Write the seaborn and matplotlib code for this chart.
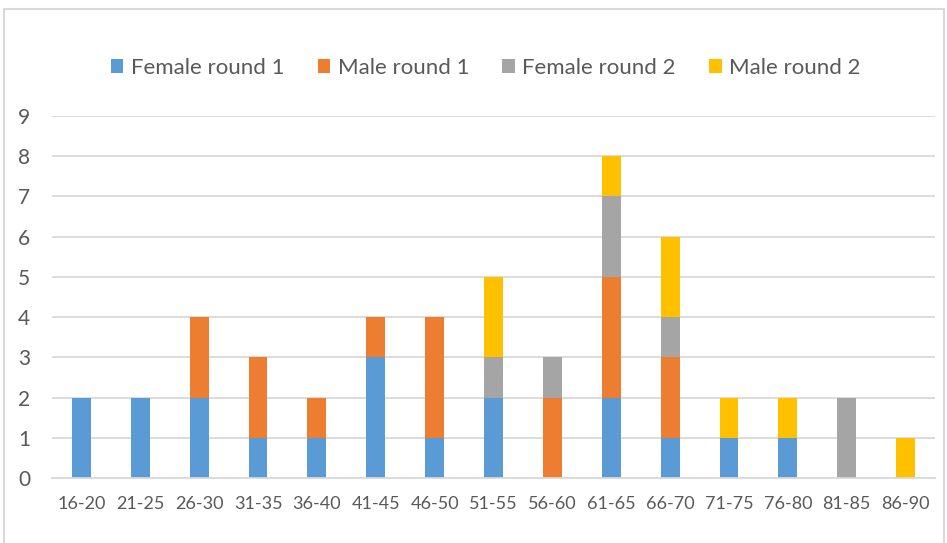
import matplotlib
matplotlib.use("Agg")
import matplotlib.pyplot as plt
import seaborn as sns
import numpy as np
from matplotlib.patches import Rectangle

# ── Data ──────────────────────────────────────────────────────────────
age_groups = ["16-20", "21-25", "26-30", "31-35", "36-40", "41-45", "46-50", "51-55",
              "56-60", "61-65", "66-70", "71-75", "76-80", "81-85", "86-90"]
female_round1 = [2, 2, 2, 1, 1, 3, 1, 2, 0, 2, 1, 1, 1, 0, 0]
male_round1 = [0, 0, 2, 2, 1, 1, 3, 0, 2, 3, 2, 0, 0, 0, 0]
female_round2 = [0, 0, 0, 0, 0, 0, 0, 1, 1, 2, 1, 0, 0, 2, 0]
male_round2 = [0, 0, 0, 0, 0, 0, 0, 2, 0, 1, 2, 1, 1, 0, 1]

series_names = ["Female round 1", "Male round 1", "Female round 2", "Male round 2"]
series_colors = ["#5B9BD5", "#ED7D31", "#A5A5A5", "#FFC000"]

# ── Style ─────────────────────────────────────────────────────────────
sns.set_style("white")
plt.rcParams["font.family"] = ["Lato", "DejaVu Sans"]
TEXT = "#595959"
GRID = "#D9D9D9"

fig = plt.figure(figsize=(9.47, 5.43), dpi=100)
ax = fig.add_axes([52 / 947, 1 - 478 / 543, (935 - 52) / 947, (478 - 116) / 543])

bottom = np.zeros(len(age_groups))
for name, vals, col in zip(series_names,
                           [female_round1, male_round1, female_round2, male_round2],
                           series_colors):
    sns.barplot(x=age_groups, y=vals, bottom=bottom, color=col, width=0.32,
                saturation=1, label=name, ax=ax, linewidth=0)
    bottom = bottom + np.array(vals)

ax.set_ylim(0, 9)
ax.set_yticks(range(0, 10))
ax.set_xlim(-0.5, len(age_groups) - 0.5)
ax.yaxis.grid(True, color=GRID, linewidth=1.3)
ax.set_axisbelow(True)
for s in ["top", "right", "left"]:
    ax.spines[s].set_visible(False)
ax.spines["bottom"].set_color(GRID)
ax.spines["bottom"].set_linewidth(1.3)
ax.tick_params(axis="both", length=0, colors=TEXT)
ax.tick_params(axis="y", labelsize=15, pad=24.5)
ax.tick_params(axis="x", labelsize=13, pad=13)
for lbl in ax.get_yticklabels():
    lbl.set_horizontalalignment("left")
ax.set_xlabel("")
ax.set_ylabel("")

leg = ax.legend(loc="center", bbox_to_anchor=(0.513, 1 - 68 / 543), bbox_transform=fig.transFigure,
                ncol=4, frameon=False, fontsize=16, handlelength=0.55, handleheight=0.55,
                handletextpad=0.35, columnspacing=1.5)
for t in leg.get_texts():
    t.set_color(TEXT)

# chart border
fig.patches.append(Rectangle((4 / 947, -0.02), 940 / 947, 1.02 - 9 / 543,
                             transform=fig.transFigure, fill=False,
                             edgecolor=GRID, linewidth=1.5))

fig.savefig("out.png", dpi=100)
